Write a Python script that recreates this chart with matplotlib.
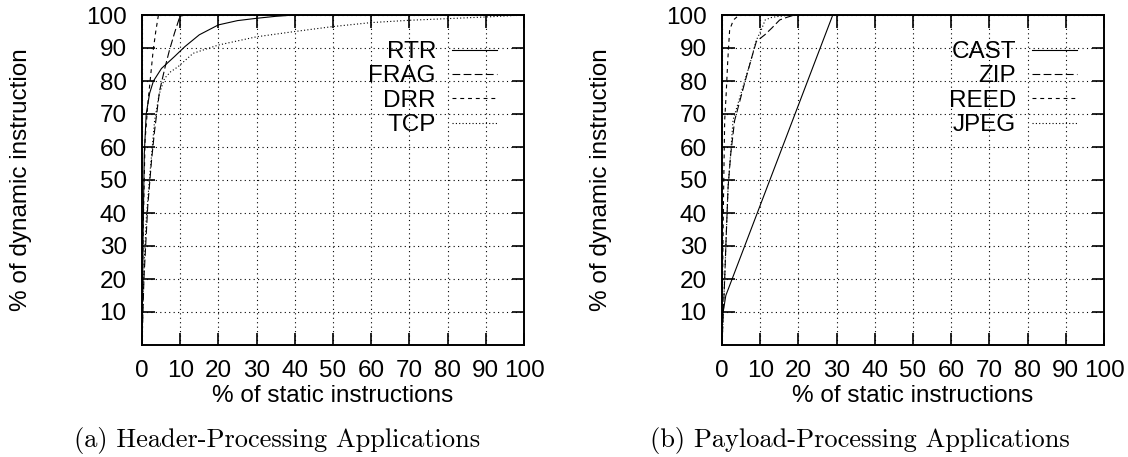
import numpy as np
import matplotlib
matplotlib.use("Agg")
import matplotlib.pyplot as plt

# header-processing applications
rtr_x = [0, 0.3, 0.6, 1.1, 2.0, 3.0, 5.1, 8.5, 11.2, 15, 20, 25, 30, 35, 40, 100]
rtr_y = [0, 35, 58, 70, 76.3, 80, 83.8, 87.4, 90.4, 94, 97, 98.3, 99, 99.6, 100, 100]
frag_x = [0, 0.5, 1.5, 2.5, 3.3, 4.6, 6, 7.2, 8.5, 9.9, 11, 100]
frag_y = [0, 20, 42, 56, 65, 77, 84, 89.4, 94.5, 99.5, 100, 100]
drr_x = [0, 0.3, 0.8, 1.6, 2.3, 2.9, 3.6, 4.3, 100]
drr_y = [0, 35, 62, 74, 82, 89, 95, 100, 100]
tcp_x = [0, 0.3, 0.6, 1.1, 2.0, 3.3, 4.5, 5.9, 7.5, 9.4, 13.4, 20, 30, 40, 50, 60, 70, 80, 90, 95, 100]
tcp_y = [0, 15, 25, 38, 51, 68, 76, 80.8, 82.8, 84.3, 88.4, 90.9, 93.4, 95, 96.5, 97.7, 98.4, 98.9, 99.4, 99.7, 100]

# payload-processing applications
cast_x = [0, 0.3, 1, 29, 100]
cast_y = [7, 10, 15, 100, 100]
zip_x = [0, 0.7, 1.1, 1.6, 2.3, 3.3, 5.9, 7.5, 9, 11.2, 13, 15.1, 17, 19, 100]
zip_y = [0, 20, 33, 48, 58, 68, 79.3, 86, 92, 94, 96, 98.5, 99.3, 100, 100]
reed_x = [0, 0.15, 0.4, 0.7, 1.1, 1.5, 2, 3, 4, 5, 100]
reed_y = [0, 20, 45, 68, 76.3, 86, 95.5, 98.5, 99.5, 100, 100]
jpeg_x = [0, 0.7, 1.1, 1.6, 2.9, 5.5, 7.5, 9, 10.3, 11.3, 12.8, 14.3, 18, 100]
jpeg_y = [0, 20, 33, 48, 68.2, 78.3, 86, 92.4, 95.5, 98.5, 99.2, 99.5, 100, 100]

xticks = list(range(0, 101, 10))
yticks = list(range(10, 101, 10))

plt.rcParams["font.family"] = "Liberation Sans"
plt.rcParams["font.size"] = 17.5

styles = ["-", (0, (7, 3)), (0, (3.5, 3.5)), (0, (1, 2))]

fig = plt.figure(figsize=(11.28, 4.57), dpi=100)
ax1 = fig.add_axes([142 / 1128, 112 / 457, 382 / 1128, 330 / 457])
ax2 = fig.add_axes([722 / 1128, 112 / 457, 382 / 1128, 330 / 457])

panels = [
    (ax1, [(rtr_x, rtr_y, "RTR"), (frag_x, frag_y, "FRAG"), (drr_x, drr_y, "DRR"), (tcp_x, tcp_y, "TCP")]),
    (ax2, [(cast_x, cast_y, "CAST"), (zip_x, zip_y, "ZIP"), (reed_x, reed_y, "REED"), (jpeg_x, jpeg_y, "JPEG")]),
]

for ax, series in panels:
    for (x, y, name), ls in zip(series, styles):
        ax.plot(x, y, color="black", lw=0.8, linestyle=ls, label=name)
    ax.set_xlim(0, 100)
    ax.set_ylim(0, 100)
    ax.set_xticks(xticks)
    ax.set_yticks(yticks)
    ax.grid(True, color="black", lw=0.8, linestyle=(0, (1, 3)))
    ax.tick_params(direction="in", length=9, width=1.2, top=True, right=True)
    ax.tick_params(axis="x", pad=11)
    ax.tick_params(axis="y", pad=11)
    for s in ax.spines.values():
        s.set_linewidth(1.4)
    ax.set_xlabel("% of static instructions", labelpad=2)
    ax.set_ylabel("% of dynamic instruction")
    ax.yaxis.set_label_coords(-0.288, 0.5)
    ax.legend(loc="upper right", bbox_to_anchor=(0.961, 0.958), frameon=False,
              markerfirst=False, borderpad=0, handlelength=1.85,
              handletextpad=0.66, labelspacing=0.1)

fig.text(277 / 1128, 1 - 440 / 457, "(a) Header-Processing Applications",
         family="cmr10", fontsize=19, ha="center", va="center")
fig.text(860 / 1128, 1 - 440 / 457, "(b) Payload-Processing Applications",
         family="cmr10", fontsize=19, ha="center", va="center")

fig.savefig("out.png", dpi=100)
